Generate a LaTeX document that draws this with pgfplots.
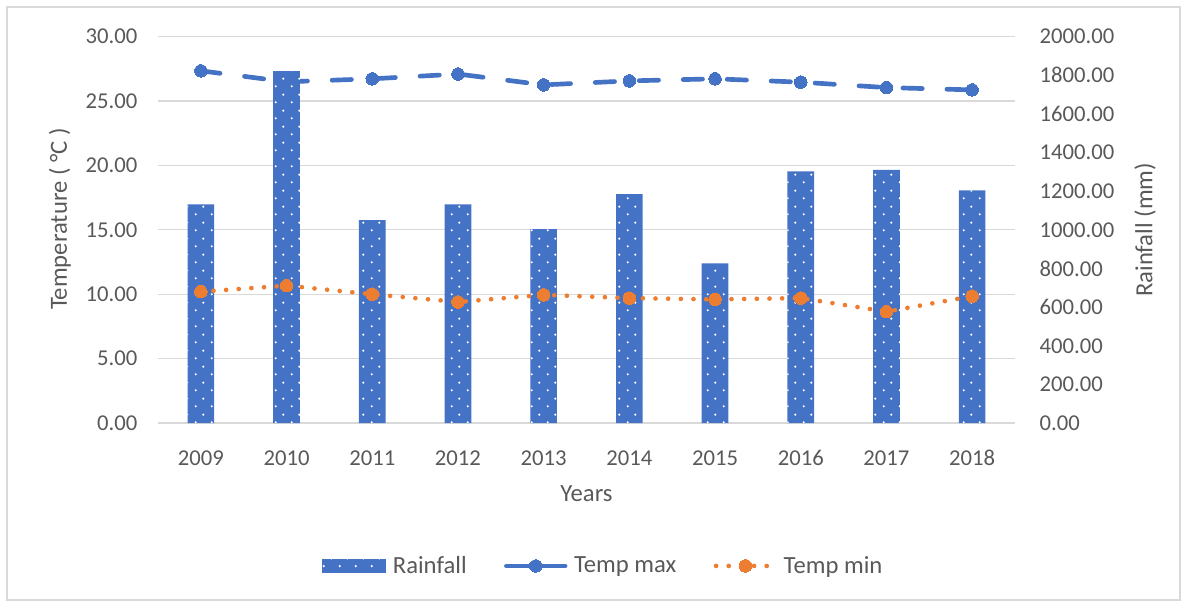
\documentclass[border=0pt]{standalone}
\usepackage{pgfplots}
\pgfplotsset{compat=1.18}
\usepackage{fontspec}
\setmainfont{Carlito}
\usetikzlibrary{patterns.meta}
\definecolor{textgray}{HTML}{595959}
\definecolor{gridgray}{HTML}{D9D9D9}
\definecolor{rainblue}{HTML}{4472C4}
\definecolor{minorange}{HTML}{ED7D31}

\tikzdeclarepattern{
  name=sparsedots,
  type=uncolored,
  bottom left={(0pt,0pt)},
  top right={(12pt,12pt)},
  tile size={(12pt,12pt)},
  code={
    \fill (3pt,3pt) circle (0.95pt);
    \fill (9pt,9pt) circle (0.95pt);
  }
}

\pgfplotsset{
  base/.style={
    at={(118.5pt,-317.25pt)}, anchor=south west, scale only axis,
    width=642.75pt, height=289.725pt,
    xmin=-0.5, xmax=9.5,
    tick style={draw=none},
    axis line style={draw=none},
    /pgf/number format/assume math mode=true,
    tick label style={font=\fontsize{17}{20}\selectfont, text=textgray},
    yticklabel style={/pgf/number format/fixed, /pgf/number format/fixed zerofill,
      /pgf/number format/precision=2, /pgf/number format/1000 sep={}},
    clip=false,
  }
}

\begin{document}
\begin{tikzpicture}
\path[use as bounding box] (0,0) rectangle (885.75pt,-450.75pt);
\draw[gridgray, line width=0.8pt] (5.25pt,-5.25pt) rectangle (885pt,-450pt);

% Axis A: temperature (left), grid, Temp max
\begin{axis}[base,
  ymin=0, ymax=30, ytick={0,5,...,30},
  ymajorgrids, grid style={gridgray, line width=0.9pt},
  xtick={0,...,9},
  xticklabels={2009,2010,2011,2012,2013,2014,2015,2016,2017,2018},
  xticklabel style={yshift=-17pt},
  yticklabel style={xshift=-12pt},
  xlabel={Years},
  every axis x label/.style={at={(axis description cs:0.5,-0.184)}, anchor=center,
    font=\fontsize{18.5}{22}\selectfont, text=textgray},
  ylabel={Temperature ( °C )},
  every axis y label/.style={at={(axis description cs:-0.1144,0.528)}, rotate=90, anchor=center,
    font=\fontsize{18.5}{22}\selectfont, text=textgray},
]
\addplot[rainblue, line width=3.5pt, line cap=round, dash pattern=on 14.5pt off 18.5pt,
  mark=*, mark size=4.7pt, mark options={solid, fill=rainblue, draw=rainblue, line width=0pt}]
  coordinates {(0,27.35) (1,26.5) (2,26.73) (3,27.1) (4,26.26) (5,26.57) (6,26.73) (7,26.47) (8,26.05) (9,25.87)};
\end{axis}

% Axis B: rainfall (right), bars
\begin{axis}[base,
  ymin=0, ymax=2000, ytick={0,200,...,2000},
  axis y line*=right, axis x line=none,
  xtick=\empty,
  yticklabel style={xshift=15pt},
  ylabel={Rainfall (mm)},
  every axis y label/.style={at={(axis description cs:1.1517,0.5)}, rotate=90, anchor=center,
    font=\fontsize{18.5}{22}\selectfont, text=textgray},
]
\addplot[ybar, bar width=20pt, draw=none, fill=rainblue,
  postaction={pattern=sparsedots, pattern color=white}]
  coordinates {(0,1132) (1,1822) (2,1051) (3,1132) (4,1004) (5,1185) (6,827) (7,1303) (8,1311) (9,1204)};
\end{axis}

% Axis C: Temp min on top, legend
\begin{axis}[base,
  ymin=0, ymax=30, hide axis,
  legend columns=3,
  legend style={at={(axis description cs:0.52,-0.37)}, anchor=center, draw=none, fill=none,
    font=\fontsize{18.5}{22}\selectfont, text=textgray,
    /tikz/every odd column/.append style={column sep=3pt},
    /tikz/every even column/.append style={column sep=26pt}},
  legend image code/.code={\draw[mark repeat=2,mark phase=2,#1] plot coordinates {(0pt,0pt) (22pt,0pt) (44pt,0pt)};},
]
\addlegendimage{draw=none, legend image code/.code={
  \fill[rainblue] (0pt,-5pt) rectangle (48pt,5pt);
  \path[draw=none, pattern=sparsedots, pattern color=white] (0pt,-5pt) rectangle (48pt,5pt);}}
\addlegendentry{Rainfall}
\addlegendimage{rainblue, line width=3.5pt, line cap=round, mark=*, mark size=4.7pt,
  mark options={solid, fill=rainblue, draw=rainblue, line width=0pt}}
\addlegendentry{Temp max}
\addplot[minorange, line width=3.5pt, line cap=round, dash pattern=on 0pt off 9.5pt,
  mark=*, mark size=4.7pt, mark options={solid, fill=minorange, draw=minorange, line width=0pt}]
  coordinates {(0,10.2) (1,10.67) (2,10.0) (3,9.4) (4,9.95) (5,9.7) (6,9.6) (7,9.7) (8,8.65) (9,9.85)};
\addlegendentry{Temp min}
\end{axis}
\end{tikzpicture}
\end{document}
